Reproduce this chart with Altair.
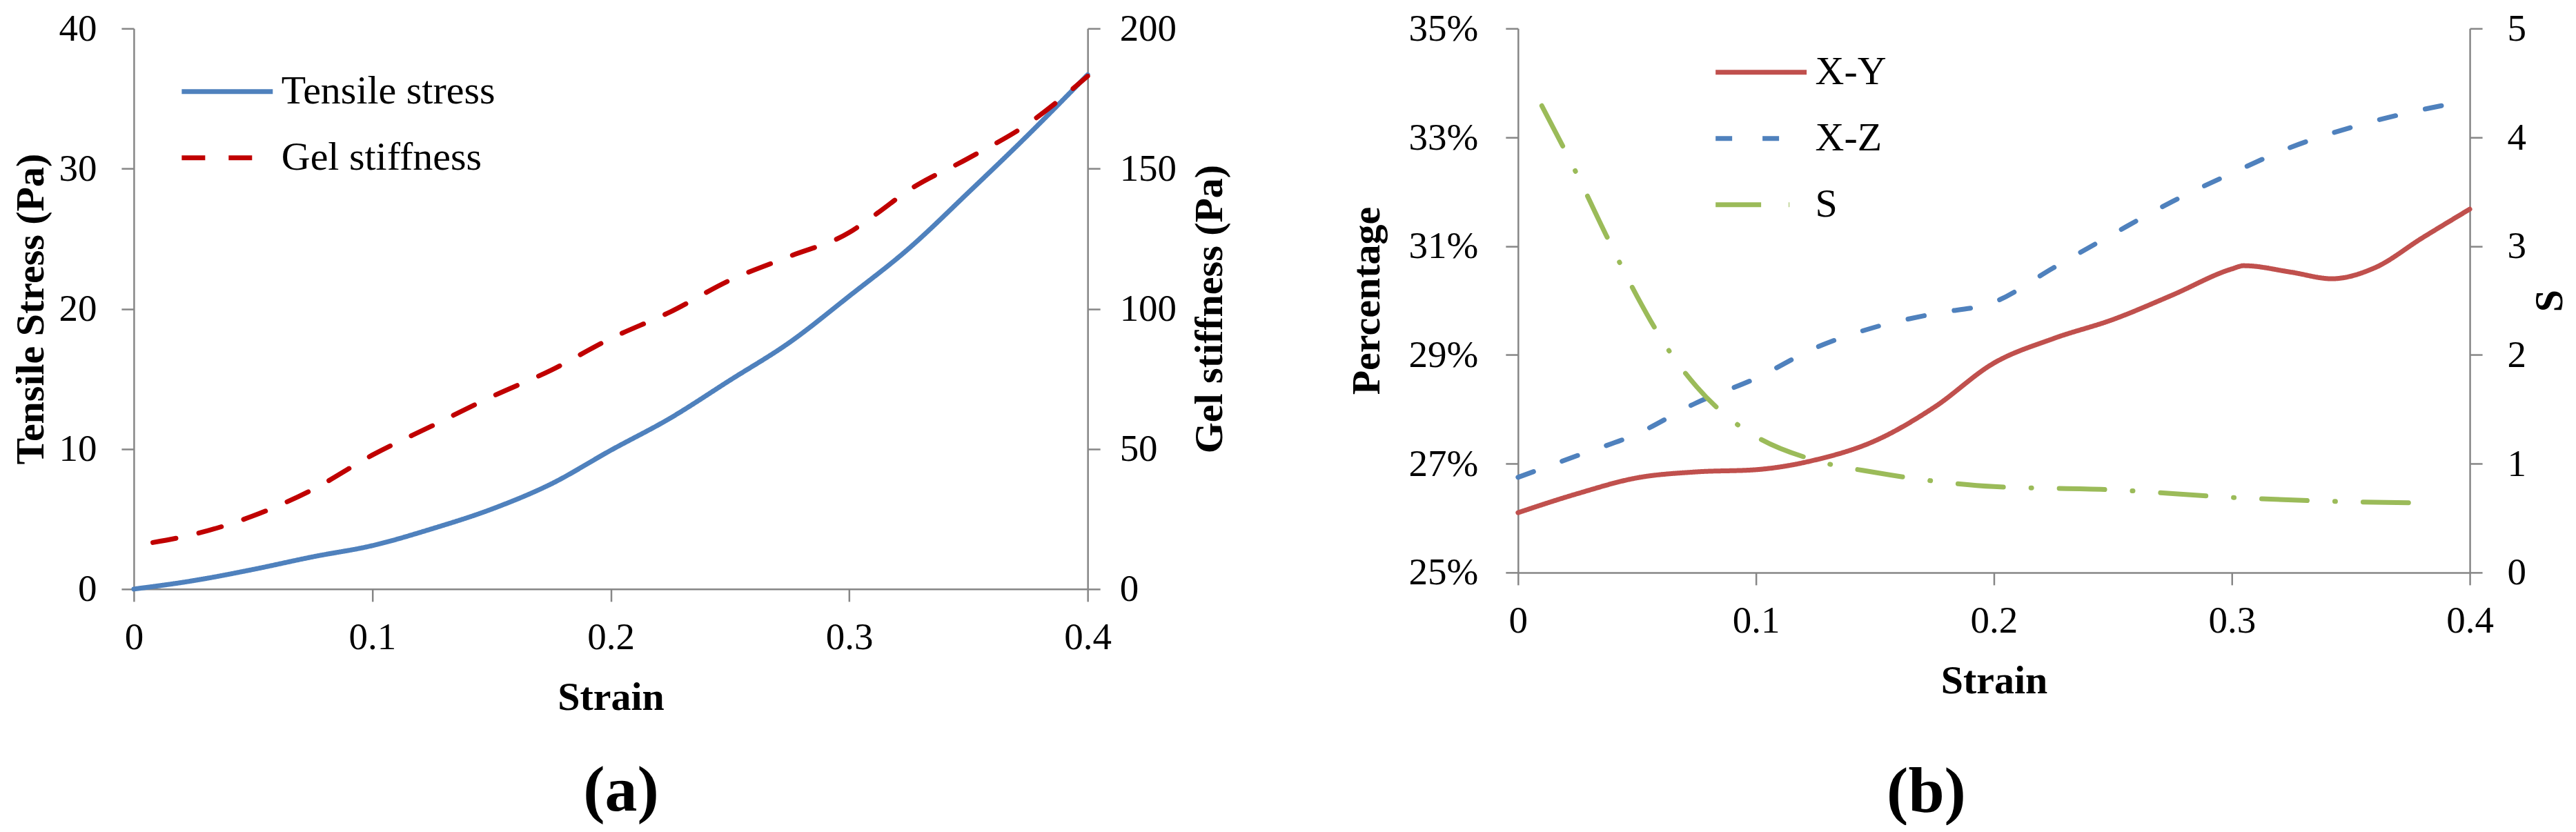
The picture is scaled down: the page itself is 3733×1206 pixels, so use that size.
import altair as alt
import pandas as pd

FONT = "Liberation Serif"

# ---------------- Panel (a) data ----------------
strain_tensile = [0, 0.025, 0.05, 0.075, 0.1, 0.125, 0.15, 0.175, 0.2, 0.225,
                  0.25, 0.275, 0.3, 0.325, 0.35, 0.375, 0.4]
tensile_stress = [0, 0.6, 1.4, 2.3, 3.1, 4.3, 5.7, 7.5, 9.9, 12.2,
                  14.9, 17.6, 20.9, 24.3, 28.3, 32.4, 36.7]
strain_gel = [0.008, 0.025, 0.05, 0.075, 0.1, 0.125, 0.15, 0.175, 0.2, 0.225,
              0.25, 0.275, 0.3, 0.31, 0.325, 0.35, 0.375, 0.4]
gel_stiffness = [16.6, 19.5, 26.1, 35.5, 47.8, 58.2, 68.6, 78.1, 89.4, 98.9,
                 110.2, 118.7, 127.2, 133.0, 142.3, 153.7, 166.0, 183.0]
series_a = ["Tensile stress", "Gel stiffness"]
colors_a = ["#4F81BD", "#C00000"]
dashes_a = [[1, 0], [34, 34]]

# ---------------- Panel (b) data ----------------
strain_xy = [0, 0.025, 0.05, 0.075, 0.1, 0.125, 0.15, 0.175, 0.2, 0.225,
             0.25, 0.275, 0.3, 0.305, 0.325, 0.342, 0.36, 0.38, 0.4]
pct_xy = [26.10, 26.45, 26.74, 26.85, 26.89, 27.07, 27.42, 28.04, 28.85, 29.30,
          29.65, 30.10, 30.58, 30.64, 30.52, 30.40, 30.60, 31.15, 31.68]
strain_xz = [0, 0.025, 0.05, 0.075, 0.1, 0.125, 0.15, 0.175, 0.2, 0.225,
             0.25, 0.275, 0.3, 0.325, 0.35, 0.375, 0.4]
pct_xz = [26.75, 27.15, 27.55, 28.12, 28.57, 29.13, 29.51, 29.76, 29.97, 30.60,
          31.22, 31.82, 32.34, 32.82, 33.18, 33.46, 33.68]
strain_s = [0.01, 0.025, 0.0375, 0.05, 0.0625, 0.075, 0.0875, 0.1, 0.125, 0.15,
            0.175, 0.2, 0.25, 0.3, 0.35, 0.38]
s_values = [4.29, 3.65, 3.08, 2.54, 2.07, 1.71, 1.44, 1.25, 1.03, 0.92,
            0.84, 0.79, 0.76, 0.69, 0.65, 0.64]
series_b = ["X-Y", "X-Z", "S"]
colors_b = ["#C0504D", "#4F81BD", "#9BBB59"]
dashes_b = [[1, 0], [24, 44], [66, 40, 1, 40]]

x_ticks = [0, 0.1, 0.2, 0.3, 0.4]
stress_ticks = [0, 10, 20, 30, 40]
stiff_ticks = [0, 50, 100, 150, 200]
pct_ticks = [25, 27, 29, 31, 33, 35]
s_ticks = [0, 1, 2, 3, 4, 5]

# ---------------- tables ----------------
df_ts = pd.DataFrame({"strain": strain_tensile, "value": tensile_stress, "series": series_a[0]})
df_gel = pd.DataFrame({"strain": strain_gel, "value": gel_stiffness, "series": series_a[1]})
df_pct = pd.concat([
    pd.DataFrame({"strain": strain_xy, "value": pct_xy, "series": series_b[0]}),
    pd.DataFrame({"strain": strain_xz, "value": pct_xz, "series": series_b[1]}),
])
df_s = pd.DataFrame({"strain": strain_s, "value": s_values, "series": series_b[2]})

LW = 7


def legend(x, y):
    return alt.Legend(title=None, orient="none", legendX=x, legendY=y,
                      symbolType="M-2,0H2", symbolSize=4356, symbolStrokeWidth=LW,
                      labelFont=FONT, labelFontSize=58, labelColor="black",
                      labelOffset=42, rowPadding=30, padding=0, labelLimit=600)


def x_enc():
    return alt.X("strain:Q", scale=alt.Scale(domain=[0, 0.4], nice=False, zero=False),
                 axis=alt.Axis(values=x_ticks, format="~g", title="Strain",
                               labelFlush=False, labelOverlap=False,
                               labelPadding=26, titlePadding=31))


line_kw = dict(strokeWidth=LW, interpolate="monotone", strokeCap="round", strokeJoin="round")

# ---------------- Panel (a) ----------------
leg_a = legend(99, 55)
color_a = alt.Color("series:N", scale=alt.Scale(domain=series_a, range=colors_a), legend=leg_a)
dash_a = alt.StrokeDash("series:N", scale=alt.Scale(domain=series_a, range=dashes_a), legend=leg_a)

ts_line = alt.Chart(df_ts).mark_line(**line_kw).encode(
    x=x_enc(),
    y=alt.Y("value:Q", scale=alt.Scale(domain=[0, 40], nice=False),
            axis=alt.Axis(orient="left", values=stress_ticks, title="Tensile Stress (Pa)",
                          labelPadding=36, titlePadding=10)),
    color=color_a, strokeDash=dash_a,
)
gel_line = alt.Chart(df_gel).mark_line(**line_kw).encode(
    x=x_enc(),
    y=alt.Y("value:Q", scale=alt.Scale(domain=[0, 200], nice=False),
            axis=alt.Axis(orient="right", values=stiff_ticks, title="Gel stiffness (Pa)",
                          titleAngle=270, titleBaseline="top",
                          labelPadding=28, titlePadding=20)),
    color=color_a, strokeDash=dash_a,
)
panel_a = alt.layer(ts_line, gel_line).resolve_scale(y="independent").properties(
    width=1383, height=813,
    title=alt.TitleParams("(a)", orient="bottom", anchor="middle", font=FONT, fontSize=94,
                          fontWeight="bold", color="black", dx=15, offset=60),
)

# ---------------- Panel (b) ----------------
leg_b = legend(316, 27)
color_b = alt.Color("series:N", scale=alt.Scale(domain=series_b, range=colors_b), legend=leg_b)
dash_b = alt.StrokeDash("series:N", scale=alt.Scale(domain=series_b, range=dashes_b), legend=leg_b)

pct_lines = alt.Chart(df_pct).mark_line(**line_kw).encode(
    x=x_enc(),
    y=alt.Y("value:Q", scale=alt.Scale(domain=[25, 35], nice=False, zero=False),
            axis=alt.Axis(orient="left", values=pct_ticks, labelExpr="datum.value + '%'",
                          title="Percentage", labelPadding=40, titlePadding=31)),
    color=color_b, strokeDash=dash_b, detail="series:N",
)
s_line = alt.Chart(df_s).mark_line(**line_kw).encode(
    x=x_enc(),
    y=alt.Y("value:Q", scale=alt.Scale(domain=[0, 5], nice=False),
            axis=alt.Axis(orient="right", values=s_ticks, title="S", titleAngle=270,
                          titleBaseline="top", labelPadding=36, titlePadding=6)),
    color=color_b, strokeDash=dash_b,
)
panel_b = alt.layer(pct_lines, s_line).resolve_scale(y="independent").properties(
    width=1380, height=789,
    title=alt.TitleParams("(b)", orient="bottom", anchor="middle", font=FONT, fontSize=94,
                          fontWeight="bold", color="black", dx=-98, offset=86),
)

chart = alt.hconcat(panel_a, panel_b, spacing=169).resolve_scale(
    color="independent", strokeDash="independent"
).properties(
    padding={"left": 9, "top": 6, "right": 0, "bottom": 0}
).configure_view(stroke=None).configure_axis(
    domainColor="#868686", tickColor="#868686", domainWidth=2.5, tickWidth=2.5,
    tickSize=18, grid=False,
    labelFont=FONT, labelFontSize=55, labelColor="black",
    titleFont=FONT, titleFontSize=58, titleFontWeight="bold", titleColor="black",
)

chart.save("out.html", embed_options={"renderer": "svg", "actions": False})
